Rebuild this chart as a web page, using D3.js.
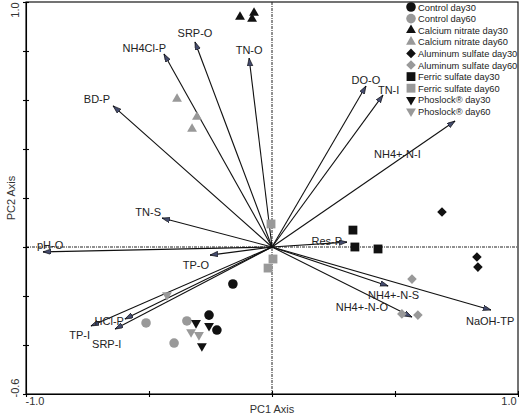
<!DOCTYPE html>
<html>
<head>
<meta charset="utf-8">
<script src="https://cdn.jsdelivr.net/npm/d3@7"></script>
<style>
  html, body { margin: 0; padding: 0; background: #fff; }
  svg { display: block; font-family: "Liberation Sans", Arial, sans-serif; }
</style>
</head>
<body>
<svg id="chart" width="519" height="417"></svg>
<script>
// ---------- data ----------
const vectorNames = ["BD-P","NH4Cl-P","SRP-O","TN-O","DO-O","TN-I","NH4+-N-I","TN-S","pH-O","TP-O","HCl-P","TP-I","SRP-I","Res-P","NH4+-N-S","NH4+-N-O","NaOH-TP"];
const vectorPC1 = [-0.646,-0.439,-0.313,-0.093,0.382,0.451,0.744,-0.447,-0.931,-0.252,-0.598,-0.736,-0.638,0.305,0.472,0.569,0.890];
const vectorPC2 = [0.576,0.788,0.837,0.771,0.657,0.620,0.514,0.118,-0.020,-0.033,-0.294,-0.322,-0.335,0.020,-0.159,-0.286,-0.257];

const seriesNames = ["Control day30","Control day60","Calcium nitrate day30","Calcium nitrate day60","Aluminum sulfate day30","Aluminum sulfate day60","Ferric sulfate day30","Ferric sulfate day60","Phoslock\u00ae day30","Phoslock\u00ae day60"];
const seriesPC1 = [
  [-0.159,-0.256,-0.224],
  [-0.512,-0.346,-0.398],
  [-0.130,-0.073,-0.081],
  [-0.386,-0.305,-0.325],
  [0.691,0.833,0.837],
  [0.569,0.528,0.593],
  [0.329,0.337,0.431],
  [-0.004,0.004,-0.016],
  [-0.309,-0.256,-0.285],
  [-0.427,-0.329,-0.297]
];
const seriesPC2 = [
  [-0.151,-0.278,-0.339],
  [-0.310,-0.302,-0.392],
  [0.939,0.955,0.931],
  [0.604,0.531,0.482],
  [0.143,-0.041,-0.082],
  [-0.131,-0.273,-0.278],
  [0.069,0.000,-0.008],
  [0.094,-0.049,-0.086],
  [-0.310,-0.322,-0.404],
  [-0.196,-0.347,-0.359]
];
const xTicks = [-1, -0.5, 0, 0.5, 1];
const yTicks = [-0.6, -0.4, -0.2, 0, 0.2, 0.4, 0.6, 0.8, 1.0];
const xEndLabels = ["-1.0", "1.0"];
const yEndLabels = ["-0.6", "1.0"];

// ---------- styles / layout ----------
const seriesShape = ["circle","circle","up","up","diamond","diamond","square","square","down","down"];
const seriesColor = ["#111","#999","#111","#999","#111","#999","#111","#999","#111","#999"];
const labelPlacement = {
  "BD-P": [-3,-3,"end"], "NH4Cl-P": [2,-2,"end"], "SRP-O": [0,-5,"middle"],
  "TN-O": [0,-4,"middle"], "DO-O": [0,-2,"middle"], "TN-I": [-5,-1,"start"],
  "NH4+-N-I": [-81,37,"start"], "TN-S": [-1,-2,"end"], "pH-O": [-6,-3,"start"],
  "TP-O": [-1,14,"end"], "HCl-P": [-1,6,"end"], "TP-I": [-1,13,"end"],
  "SRP-I": [-23,19,"start"], "Res-P": [-5,3,"end"], "NH4+-N-S": [-20,13,"start"],
  "NH4+-N-O": [-24,-6,"end"], "NaOH-TP": [-25,15,"start"]
};

const svg = d3.select("#chart");
const x = d3.scaleLinear().domain([-1, 1]).range([26, 518]);
const y = d3.scaleLinear().domain([-0.6, 1]).range([394, 2]);

function symPath(shape, size) {
  if (shape === "circle") return d3.symbol(d3.symbolCircle, size || 72)();
  if (shape === "square") return d3.symbol(d3.symbolSquare, size || 78)();
  if (shape === "diamond") return d3.symbol(d3.symbolSquare, size || 46)();
  return d3.symbol(d3.symbolTriangle, size || 42)();
}
function symRot(shape) {
  if (shape === "diamond") return 45;
  if (shape === "down") return 180;
  return 0;
}

// arrow marker
svg.append("defs").append("marker")
  .attr("id", "arrow")
  .attr("markerUnits", "userSpaceOnUse")
  .attr("markerWidth", 10).attr("markerHeight", 7)
  .attr("refX", 8).attr("refY", 2.75)
  .attr("orient", "auto")
  .append("path")
  .attr("d", "M0,0 L8,2.75 L0,5.5 Z")
  .attr("fill", "#454c6e").attr("stroke", "#000").attr("stroke-width", 0.6);

// frame
svg.append("rect")
  .attr("x", x(-1)).attr("y", y(1))
  .attr("width", x(1) - x(-1)).attr("height", y(-0.6) - y(1))
  .attr("fill", "none").attr("stroke", "#000").attr("stroke-width", 1.1);

// zero lines
svg.append("line").attr("x1", x(0)).attr("x2", x(0)).attr("y1", y(1)).attr("y2", y(-0.6))
  .attr("stroke", "#222").attr("stroke-width", 1).attr("stroke-dasharray", "3,1,1,1");
svg.append("line").attr("x1", x(-1)).attr("x2", x(1)).attr("y1", y(0)).attr("y2", y(0))
  .attr("stroke", "#222").attr("stroke-width", 1).attr("stroke-dasharray", "3,1,1,1");

// axes (ticks crossing the frame lines)
const gx = svg.append("g").attr("transform", `translate(0,${y(-0.6)})`)
  .call(d3.axisBottom(x).tickValues(xTicks).tickFormat("").tickSizeOuter(0));
gx.select(".domain").attr("stroke", "#000").attr("stroke-width", 1.1);
gx.selectAll(".tick line").attr("y1", -3).attr("y2", 3).attr("stroke", "#000").attr("stroke-width", 1.1);
const gy = svg.append("g").attr("transform", `translate(${x(-1)},0)`)
  .call(d3.axisLeft(y).tickValues(yTicks).tickFormat("").tickSizeOuter(0));
gy.select(".domain").attr("stroke", "#000").attr("stroke-width", 1.1);
gy.selectAll(".tick line").attr("x1", -3).attr("x2", 3).attr("stroke", "#000").attr("stroke-width", 1.1);

// end tick labels
svg.append("text").attr("x", x(-1) + 9).attr("y", 405).attr("text-anchor", "middle")
  .attr("font-size", 11).attr("fill", "#333").text(xEndLabels[0]);
svg.append("text").attr("x", x(1) - 9).attr("y", 405).attr("text-anchor", "middle")
  .attr("font-size", 11).attr("fill", "#333").text(xEndLabels[1]);
svg.append("text").attr("transform", `translate(19,${y(-0.6) - 6}) rotate(-90)`).attr("text-anchor", "middle")
  .attr("font-size", 11).attr("fill", "#333").text(yEndLabels[0]);
svg.append("text").attr("transform", `translate(19,${y(1) + 8}) rotate(-90)`).attr("text-anchor", "middle")
  .attr("font-size", 11).attr("fill", "#333").text(yEndLabels[1]);

// axis titles
svg.append("text").attr("x", x(0)).attr("y", 413).attr("text-anchor", "middle")
  .attr("font-size", 11).attr("fill", "#333").text("PC1 Axis");
svg.append("text").attr("transform", `translate(15,${y(0.2)}) rotate(-90)`).attr("text-anchor", "middle")
  .attr("font-size", 11).attr("fill", "#333").text("PC2 Axis");

// vectors
const vectors = vectorNames.map((n, i) => ({ name: n, px: vectorPC1[i], py: vectorPC2[i] }));
svg.append("g").selectAll("line").data(vectors).join("line")
  .attr("x1", x(0)).attr("y1", y(0))
  .attr("x2", d => x(d.px)).attr("y2", d => y(d.py))
  .attr("stroke", "#111").attr("stroke-width", 1.1)
  .attr("marker-end", "url(#arrow)");

svg.append("g").selectAll("text").data(vectors).join("text")
  .attr("x", d => x(d.px) + labelPlacement[d.name][0])
  .attr("y", d => y(d.py) + labelPlacement[d.name][1])
  .attr("text-anchor", d => labelPlacement[d.name][2])
  .attr("font-size", 11).attr("fill", "#222")
  .text(d => d.name);

// points
seriesNames.forEach((name, si) => {
  const pts = seriesPC1[si].map((v, j) => ({ px: v, py: seriesPC2[si][j] }));
  svg.append("g").selectAll("path").data(pts).join("path")
    .attr("d", symPath(seriesShape[si]))
    .attr("transform", d => `translate(${x(d.px)},${y(d.py)}) rotate(${symRot(seriesShape[si])})`)
    .attr("fill", seriesColor[si]);
});

// legend
const leg = svg.append("g").attr("transform", "translate(411,7)");
seriesNames.forEach((name, si) => {
  const row = leg.append("g").attr("transform", `translate(0,${si * 11.6})`);
  row.append("path").attr("d", symPath(seriesShape[si]))
    .attr("transform", `rotate(${symRot(seriesShape[si])})`)
    .attr("fill", seriesColor[si]);
  row.append("text").attr("x", 7).attr("y", 3.5)
    .attr("font-size", 9.3).attr("fill", "#222").text(name);
});
</script>
</body>
</html>
